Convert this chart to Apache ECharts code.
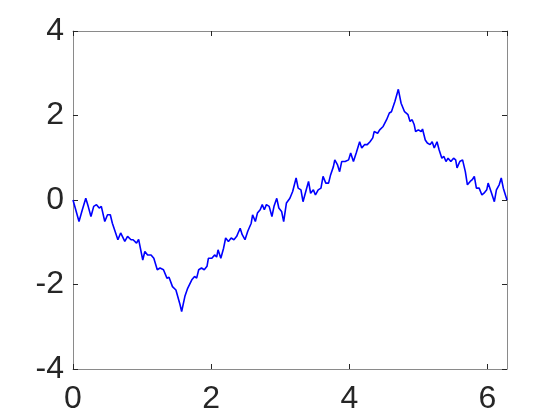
<!DOCTYPE html>
<html>
<head>
<meta charset="utf-8">
<script src="https://cdn.jsdelivr.net/npm/echarts@6.0.0/dist/echarts.min.js"></script>
<style>
  html, body { margin: 0; padding: 0; background: #ffffff; }
  #chart { width: 560px; height: 420px; }
</style>
</head>
<body>
<div id="chart"></div>
<script>
// values
const xs = [
  0, 0.087, 0.135, 0.185, 0.22, 0.26, 0.30, 0.34, 0.38, 0.41, 0.46, 0.50, 0.54, 0.57,
  0.65, 0.69, 0.71, 0.75, 0.79, 0.84, 0.87, 0.92, 0.95, 1.01, 1.04, 1.08, 1.13, 1.17,
  1.22, 1.26, 1.31, 1.36, 1.39, 1.44, 1.49, 1.55, 1.573, 1.62, 1.66, 1.72, 1.76, 1.79,
  1.82, 1.86, 1.90, 1.94, 1.96, 2.01, 2.05, 2.08, 2.10, 2.14, 2.18, 2.21, 2.25, 2.29,
  2.33, 2.37, 2.39, 2.42, 2.45, 2.49, 2.53, 2.58, 2.60, 2.64, 2.67, 2.71, 2.74, 2.77,
  2.80, 2.84, 2.88, 2.91, 2.95, 2.98, 3.02, 3.05, 3.09, 3.14, 3.18, 3.23, 3.26, 3.30,
  3.33, 3.37, 3.41, 3.44, 3.48, 3.51, 3.55, 3.59, 3.62, 3.66, 3.70, 3.73, 3.77, 3.79,
  3.83, 3.86, 3.89, 3.94, 3.99, 4.02, 4.06, 4.10, 4.15, 4.18, 4.22, 4.26, 4.30, 4.34,
  4.36, 4.41, 4.44, 4.49, 4.54, 4.58, 4.61, 4.66, 4.71, 4.75, 4.80, 4.85, 4.88, 4.91,
  4.94, 4.96, 5.00, 5.04, 5.06, 5.10, 5.13, 5.17, 5.20, 5.23, 5.27, 5.30, 5.34, 5.37,
  5.40, 5.43, 5.47, 5.51, 5.54, 5.56, 5.60, 5.64, 5.68, 5.71, 5.75, 5.78, 5.81, 5.84,
  5.88, 5.92, 5.95, 5.99, 6.01, 6.06, 6.10, 6.13, 6.17, 6.20, 6.23, 6.283
];
const ys = [
  0, -0.51, -0.23, 0.04, -0.15, -0.39, -0.15, -0.11, -0.19, -0.15, -0.51, -0.35, -0.35, -0.55,
  -0.94, -0.78, -0.74, -0.98, -0.86, -0.94, -0.94, -1.02, -0.93, -1.42, -1.22, -1.30, -1.30, -1.38,
  -1.65, -1.61, -1.65, -1.85, -1.83, -2.05, -2.13, -2.48, -2.64, -2.28, -2.09, -1.89, -1.81, -1.85,
  -1.65, -1.61, -1.65, -1.57, -1.38, -1.38, -1.30, -1.35, -1.18, -1.38, -1.14, -0.90, -0.98, -0.90,
  -0.94, -0.86, -0.78, -0.67, -0.82, -0.94, -0.74, -0.55, -0.35, -0.51, -0.31, -0.23, -0.11, -0.23,
  -0.11, -0.15, -0.39, -0.15, 0.04, -0.19, -0.27, -0.51, -0.07, 0.04, 0.20, 0.52, 0.28, 0.24,
  -0.04, 0.20, 0.44, 0.16, 0.24, 0.12, 0.24, 0.28, 0.56, 0.40, 0.40, 0.60, 0.79, 0.95,
  0.83, 0.67, 0.91, 0.91, 0.95, 1.11, 0.91, 1.11, 1.38, 1.23, 1.31, 1.31, 1.38, 1.47,
  1.62, 1.58, 1.66, 1.74, 1.90, 2.06, 2.09, 2.33, 2.62, 2.29, 2.09, 2.02, 1.86, 1.90,
  1.78, 1.62, 1.66, 1.62, 1.68, 1.42, 1.35, 1.31, 1.38, 1.23, 1.38, 1.19, 0.99, 1.03,
  0.91, 0.99, 0.91, 0.99, 0.95, 0.76, 0.91, 0.95, 0.67, 0.36, 0.44, 0.48, 0.56, 0.28,
  0.28, 0.12, 0.16, 0.24, 0.40, 0.16, -0.04, 0.24, 0.36, 0.52, 0.28, 0
];
const xTicks = [0, 2, 4, 6];
const yTicks = [-4, -2, 0, 2, 4];

const xMax = 2 * Math.PI;
const axisColor = "#8a8a8a";
const textColor = "#262626";
const font = "'Liberation Sans', Arial, sans-serif";

const points = xs.map((x, i) => [x, ys[i]]);

const showTick = list => v => (list.indexOf(v) >= 0 ? String(v) : "");

const chart = echarts.init(document.getElementById("chart"), null, { renderer: "canvas" });
const option = {
  animation: false,
  backgroundColor: "#ffffff",
  grid: { left: 73, right: 53, top: 31, bottom: 51, containLabel: false },
  xAxis: [
    {
      type: "value",
      min: 0,
      max: xMax,
      interval: 2,
      axisLine: { show: true, onZero: false, lineStyle: { color: axisColor, width: 1 } },
      axisTick: { show: true, inside: true, length: 5, lineStyle: { color: textColor } },
      axisLabel: {
        color: textColor,
        fontSize: 32,
        fontFamily: font,
        margin: 14,
        showMaxLabel: false,
        formatter: showTick(xTicks)
      },
      splitLine: { show: false }
    },
    {
      type: "value",
      position: "top",
      min: 0,
      max: xMax,
      interval: 2,
      axisLine: { show: true, onZero: false, lineStyle: { color: axisColor, width: 1 } },
      axisTick: { show: true, inside: true, length: 5, lineStyle: { color: textColor } },
      axisLabel: { show: false },
      splitLine: { show: false }
    }
  ],
  yAxis: [
    {
      type: "value",
      min: -4,
      max: 4,
      interval: 2,
      axisLine: { show: true, onZero: false, lineStyle: { color: axisColor, width: 1 } },
      axisTick: { show: true, inside: true, length: 5, lineStyle: { color: textColor } },
      axisLabel: {
        color: textColor,
        fontSize: 32,
        fontFamily: font,
        margin: 9,
        formatter: showTick(yTicks)
      },
      splitLine: { show: false }
    },
    {
      type: "value",
      position: "right",
      min: -4,
      max: 4,
      interval: 2,
      axisLine: { show: true, onZero: false, lineStyle: { color: axisColor, width: 1 } },
      axisTick: { show: true, inside: true, length: 5, lineStyle: { color: textColor } },
      axisLabel: { show: false },
      splitLine: { show: false }
    }
  ],
  series: [
    {
      type: "line",
      data: points,
      xAxisIndex: 0,
      yAxisIndex: 0,
      showSymbol: false,
      symbol: "none",
      lineStyle: { color: "#0000ff", width: 1.6 },
      z: 3
    }
  ]
};
chart.setOption(option);
</script>
</body>
</html>
